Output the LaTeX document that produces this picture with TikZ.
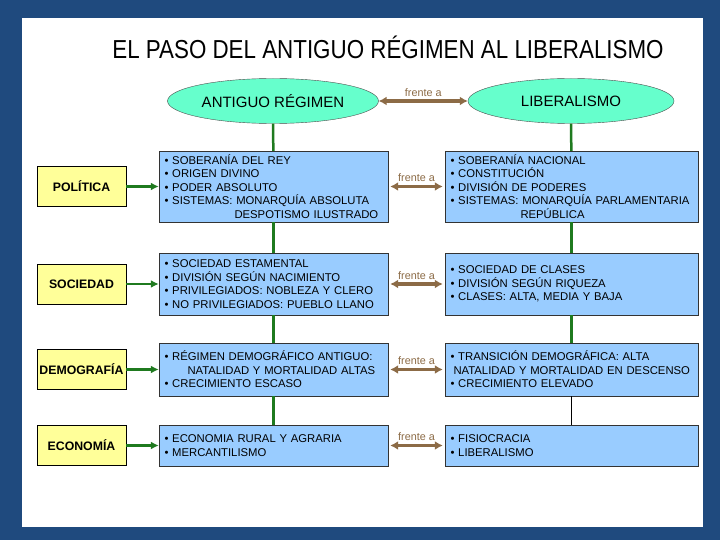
\documentclass[tikz,border=0pt]{standalone}
\usepackage{fontspec}
\setmainfont{Liberation Sans}
\usetikzlibrary{arrows.meta,positioning,shapes.geometric}
\definecolor{navy}{HTML}{1F4A7E}
\definecolor{mint}{HTML}{66FFCC}
\definecolor{skyblue}{HTML}{99CCFF}
\definecolor{paleyellow}{HTML}{FFFF99}
\definecolor{leafgreen}{HTML}{1F7A1F}
\definecolor{clay}{HTML}{8C6B46}
\tikzset{
  era/.style={ellipse,draw=black!70,thin,fill=mint,minimum width=206pt,minimum height=45pt,font=\fontsize{15}{17}\selectfont},
  topic/.style={rectangle,draw=black,thin,fill=paleyellow,minimum width=89pt,minimum height=40pt,inner xsep=2pt,font=\fontsize{12.3}{14}\selectfont\bfseries},
  featleft/.style={rectangle,draw=black!80,thin,fill=skyblue,minimum width=229pt,text width=218pt,inner xsep=5.5pt,align=left,font=\fontsize{11.3}{13.6}\selectfont},
  featright/.style={featleft,minimum width=253pt,text width=242pt},
  trunk/.style={line width=2.5pt,leafgreen},
  link/.style={-{Latex[length=8pt,width=8pt]},line width=2.5pt,leafgreen},
  versus/.style={{Latex[length=8pt,width=9pt]}-{Latex[length=8pt,width=9pt]},line width=3.2pt,clay},
  note/.style={font=\fontsize{10.8}{12}\selectfont,inner sep=1pt}
}

\begin{document}
\begin{tikzpicture}[x=1pt,y=-1pt]
  % frame
  \fill[navy] (0,0) rectangle (720,540);
  \fill[white] (22,18) rectangle (703,527);

  \node[font=\fontsize{26}{28}\selectfont] (title) at (388,47)
    {\scalebox{0.86}[1]{EL PASO DEL ANTIGUO RÉGIMEN AL LIBERALISMO}};

  % the two eras
  \node[era] (old) at (273,101) {ANTIGUO RÉGIMEN};
  \node[era] (new) at (571,101) {LIBERALISMO};

  % topics
  \node[topic] (pol) at (81.5,186.5) {POLÍTICA};
  \node[topic] (soc) at (81.5,284) {SOCIEDAD};
  \node[topic] (dem) at (81.5,369.5) {DEMOGRAFÍA};
  \node[topic] (eco) at (81.5,445.5) {ECONOMÍA};

  % antiguo regimen
  \node[featleft,minimum height=71pt] (oldpol) at (273.5,186.5)
    {• SOBERANÍA DEL REY\\• ORIGEN DIVINO\\• PODER ABSOLUTO\\• SISTEMAS: MONARQUÍA ABSOLUTA\\\hspace*{70pt}DESPOTISMO ILUSTRADO};
  \node[featleft,minimum height=62pt] (oldsoc) at (273.5,284)
    {• SOCIEDAD ESTAMENTAL\\• DIVISIÓN SEGÚN NACIMIENTO\\• PRIVILEGIADOS: NOBLEZA Y CLERO\\• NO PRIVILEGIADOS: PUEBLO LLANO};
  \node[featleft,minimum height=53pt] (olddem) at (273.5,369.5)
    {• RÉGIMEN DEMOGRÁFICO ANTIGUO:\\\hspace*{23pt}NATALIDAD Y MORTALIDAD ALTAS\\• CRECIMIENTO ESCASO};
  \node[featleft,minimum height=41pt] (oldeco) at (273.5,445.5)
    {• ECONOMIA RURAL Y AGRARIA\\• MERCANTILISMO};

  % liberalismo
  \node[featright,minimum height=71pt] (newpol) at (571.5,186.5)
    {• SOBERANÍA NACIONAL\\• CONSTITUCIÓN\\• DIVISIÓN DE PODERES\\• SISTEMAS: MONARQUÍA PARLAMENTARIA\\\hspace*{70pt}REPÚBLICA};
  \node[featright,minimum height=62pt] (newsoc) at (571.5,284)
    {• SOCIEDAD DE CLASES\\• DIVISIÓN SEGÚN RIQUEZA\\• CLASES: ALTA, MEDIA Y BAJA};
  \node[featright,minimum height=53pt] (newdem) at (571.5,369.5)
    {• TRANSICIÓN DEMOGRÁFICA: ALTA\\\hspace*{3pt}NATALIDAD Y MORTALIDAD EN DESCENSO\\• CRECIMIENTO ELEVADO};
  \node[featright,minimum height=41pt] (neweco) at (571.5,445.5)
    {• FISIOCRACIA\\• LIBERALISMO};

  % vertical trunks
  \draw[trunk] (old) -- (oldpol);
  \draw[trunk] (oldpol) -- (oldsoc);
  \draw[trunk] (oldsoc) -- (olddem);
  \draw[trunk] (olddem) -- (oldeco);
  \draw[trunk] (new) -- (newpol);
  \draw[trunk] (newpol) -- (newsoc);
  \draw[trunk] (newsoc) -- (newdem);
  \draw[black,line width=1.2pt] (newdem) -- (neweco);

  % topic arrows
  \draw[link] (pol) -- (oldpol);
  \draw[link] (soc) -- (oldsoc);
  \draw[link] (dem) -- (olddem);
  \draw[link] (eco) -- (oldeco);

  % frente a
  \draw[versus] (old) -- node[note,above=2pt] {frente a} (new);
  \draw[versus,shorten <=2pt,shorten >=2pt] (oldpol) -- node[note,above=2pt] {frente a} (newpol);
  \draw[versus,shorten <=2pt,shorten >=2pt] (oldsoc) -- node[note,above=2pt] {frente a} (newsoc);
  \draw[versus,shorten <=2pt,shorten >=2pt] (olddem) -- node[note,above=2pt] {frente a} (newdem);
  \draw[versus,shorten <=2pt,shorten >=2pt] (oldeco) -- node[note,above=2pt] {frente a} (neweco);
\end{tikzpicture}
\end{document}
